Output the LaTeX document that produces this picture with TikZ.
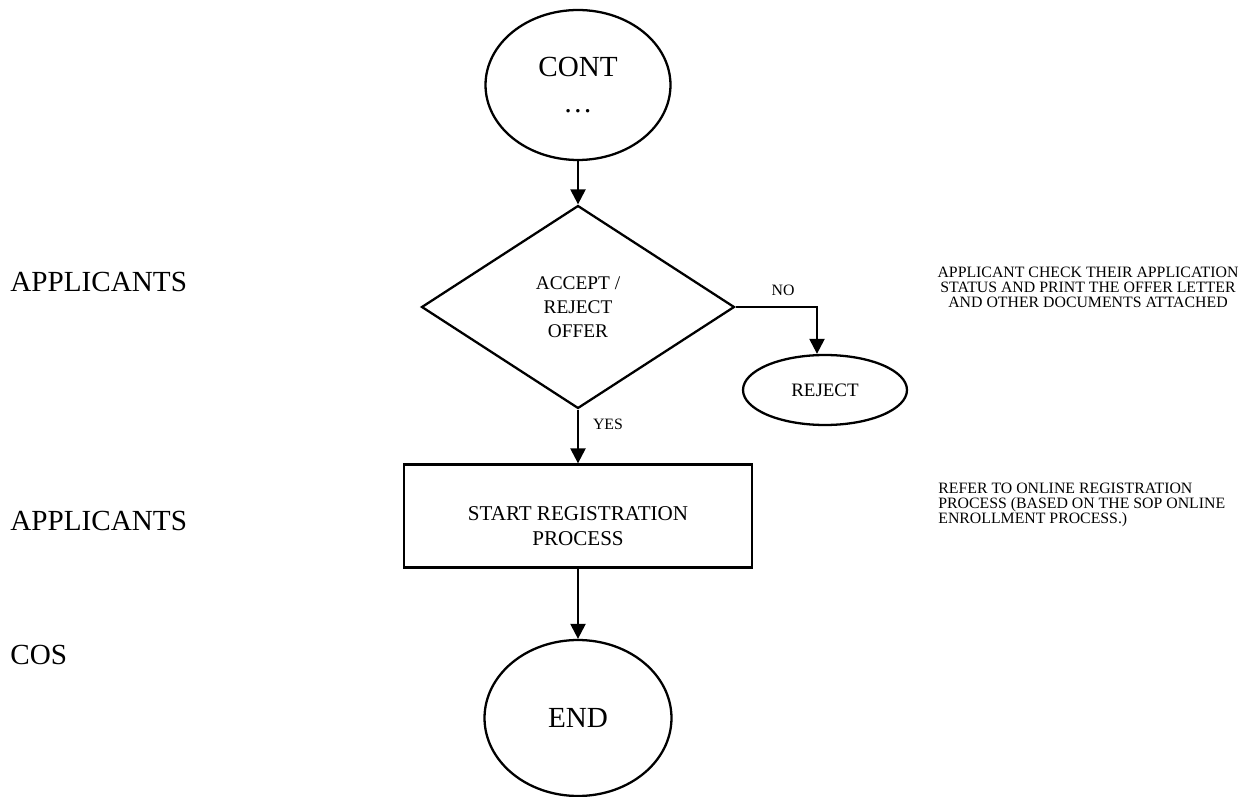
\documentclass[tikz,border=0pt]{standalone}
\usepackage{fontspec}
\setmainfont{Liberation Serif}
\usetikzlibrary{shapes.geometric,arrows.meta}
\tikzstyle{terminal}=[ellipse, draw, line width=1.3pt, inner sep=0pt, align=center]
\tikzset{decision/.style={diamond, draw, line width=1.3pt, minimum width=6.26cm, minimum height=4.06cm, inner sep=0pt, align=center}}
\tikzset{process/.style={rectangle, draw, line width=1.3pt, minimum width=6.96cm, minimum height=2.06cm}}
\tikzset{flow/.style={-{Triangle[length=8.5pt,width=8.5pt]}, line width=1.3pt}}
\tikzset{lane/.style={anchor=west, inner sep=0pt, font=\fontsize{16.6}{20}\selectfont}}
\tikzset{note/.style={inner sep=0pt, font=\fontsize{9}{8.6}\selectfont}}

\begin{document}
\begin{tikzpicture}[x=0.02cm,y=-0.02cm]
  \useasboundingbox (0,0) rectangle (1252,797);
  %% Lanes
  \draw (10,282) node[lane] (lane1) {APPLICANTS};
  \draw (10,521) node[lane] (lane2) {APPLICANTS};
  \draw (10,655) node[lane] (lane3) {COS};

  %% Flow
  \draw (578,85) node[terminal, minimum width=3.7cm, minimum height=3cm, font=\fontsize{16.6}{20.5}\selectfont] (cont) {CONT\\…};
  \draw (578,307) node[decision, font=\fontsize{11}{13.6}\selectfont] (dec) {ACCEPT /\\REJECT\\OFFER};
  \draw (825,390) node[terminal, minimum width=3.28cm, minimum height=1.4cm, font=\fontsize{10.8}{13}\selectfont] (rej) {REJECT};
  \draw (578,516) node[process, label={[align=center, font=\fontsize{12}{14.2}\selectfont, yshift=-0.2cm]center:{START REGISTRATION\\PROCESS}}] (reg) {};
  \draw (578,718) node[terminal, minimum width=3.74cm, minimum height=3.12cm, font=\fontsize{16.6}{19.9}\selectfont] (fin) {END};

  \draw[flow] (cont) -- (dec);
  \draw[flow] (dec) -- (reg);
  \draw[flow] (reg) -- (fin);
  \draw[flow] (dec.east) -| ([xshift=-0.16cm]rej.north);
  \draw (783,290) node[note] (no) {NO};
  \draw (608,424) node[note] (yes) {YES};

  %% Notes
  \draw (1088,287) node[note, align=center] (note1) {APPLICANT CHECK THEIR APPLICATION\\STATUS AND PRINT THE OFFER LETTER\\AND OTHER DOCUMENTS ATTACHED};
  \draw (938,505) node[note, align=left, anchor=west] (note2) {REFER TO ONLINE REGISTRATION\\PROCESS (BASED ON THE SOP ONLINE\\ENROLLMENT PROCESS.)};
\end{tikzpicture}
\end{document}
